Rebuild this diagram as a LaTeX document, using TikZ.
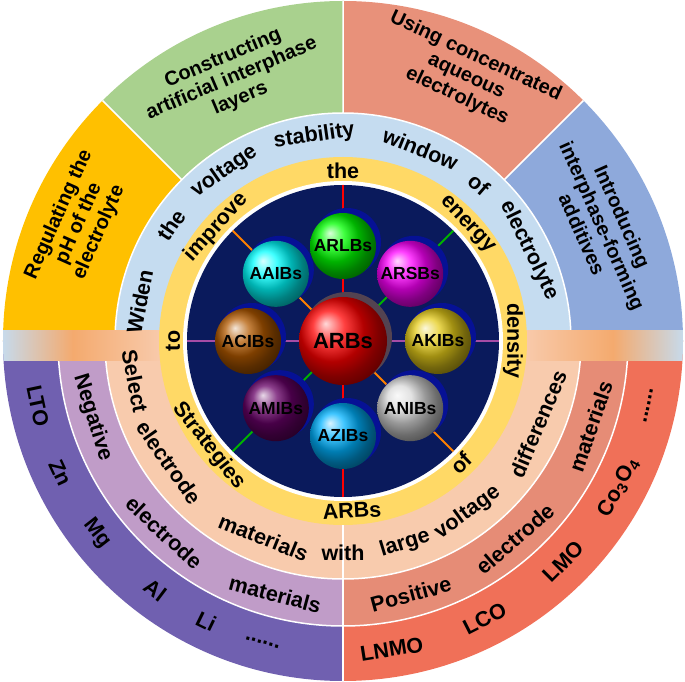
\documentclass[tikz,border=0pt]{standalone}
\usepackage{fontspec}
\setmainfont{Liberation Sans}
\usetikzlibrary{shapes,positioning,calc}
\definecolor{regyellow}{RGB}{255, 192, 0}
\definecolor{congreen}{RGB}{169, 209, 142}
\definecolor{usesalmon}{RGB}{232, 145, 122}
\definecolor{intblue}{RGB}{142, 169, 219}
\definecolor{widenblue}{RGB}{197, 220, 240}
\definecolor{ringyellow}{RGB}{255, 217, 102}
\definecolor{selpeach}{RGB}{248, 203, 173}
\definecolor{negpurple}{RGB}{192, 156, 200}
\definecolor{posred}{RGB}{230, 140, 118}
\definecolor{outpurple}{RGB}{112, 96, 176}
\definecolor{outred}{RGB}{240, 112, 88}
\definecolor{corenavy}{RGB}{10, 26, 92}
\definecolor{bandorange}{RGB}{244, 170, 110}
\newcommand{\moredots}{......}

\begin{document}
\begin{tikzpicture}[x=1pt, y=1pt,
    % word styles for the rings
    ringword/.style={font=\fontsize{21.5}{23}\selectfont\bfseries, inner sep=0pt},
    boxtext/.style={font=\fontsize{20}{22}\selectfont\bfseries, align=center, inner sep=0pt},
    balltext/.style={font=\fontsize{17.5}{19}\selectfont\bfseries, inner sep=0pt},
    spoke/.style={line width=2pt}
]
\useasboundingbox (-343,-341) rectangle (342,341);

\begin{scope}
\clip (0,0) circle (340);

% Outer segments (top half)
\fill [regyellow] (0,0) -- (180:345) arc (180:135:345) -- cycle;
\fill [congreen] (0,0) -- (135:345) arc (135:90:345) -- cycle;
\fill [usesalmon] (0,0) -- (90:345) arc (90:45:345) -- cycle;
\fill [intblue] (0,0) -- (45:345) arc (45:0:345) -- cycle;
\draw [white, line width=1.5pt] (0,0) -- (135:345) (0,0) -- (90:345) (0,0) -- (45:345);

% Outer segments (bottom half)
\fill [outpurple] (0,0) -- (180:345) arc (180:270:345) -- cycle;
\fill [outred] (0,0) -- (270:345) arc (270:360:345) -- cycle;
\fill [negpurple] (0,0) -- (180:285) arc (180:270:285) -- cycle;
\fill [posred] (0,0) -- (270:285) arc (270:360:285) -- cycle;
\draw [white, line width=1.5pt] (180:285) arc (180:360:285);
\fill [selpeach] (180:238) arc (180:360:238) -- cycle;
\draw [white, line width=1.5pt] (180:238) arc (180:360:238);
\draw [white, line width=1.5pt] (0,0) -- (0,-345);

% Widen ring (top half)
\fill [widenblue] (0:228) arc (0:180:228) -- cycle;
\draw [white, line width=1.5pt] (0:228) arc (0:180:228);

% Horizontal band
\shade [left color=widenblue, right color=bandorange] (-343,-20) rectangle (-270,10);
\shade [left color=bandorange, right color=selpeach] (-270,-20) rectangle (-180,10);
\shade [left color=selpeach, right color=bandorange] (180,-20) rectangle (270,10);
\shade [left color=bandorange, right color=widenblue] (270,-20) rectangle (343,10);
\end{scope}

% Yellow ring and core
\fill [ringyellow] (0,0) circle (184);
\fill [white] (0,0) circle (160);
\fill [corenavy] (0,0) circle (156);

% Spokes
\draw [spoke, red] (90:156) -- (270:156);
\draw [spoke, violet!70!white] (180:156) -- (0:156);
\draw [spoke, orange] (135:156) -- (315:156);
\draw [spoke, green!70!black] (45:156) -- (225:156);

% Balls around the core
\foreach \ang in {90, 45, 0, -45, -90, -135, 180, 135}
  \fill [blue!35!corenavy] ($(\ang:95)+(4,4)$) circle (34);
\fill [brown!40!corenavy] (4,4) circle (45);
\foreach \ang/\col/\lab [count=\i] in {90/green/ARLBs, 45/magenta/ARSBs, 0/yellow!60!brown/AKIBs,
    -45/gray!30/ANIBs, -90/cyan!70!blue/AZIBs, -135/violet!80!black/AMIBs,
    180/orange!70!black/ACIBs, 135/cyan/AAIBs}
{
  \shade [ball color=\col] (\ang:95) circle (33);
  \node [balltext] (ball\i) at (\ang:95) {\lab};
}
\shade [ball color=red] (0,0) circle (44);
\node [balltext, font=\fontsize{22}{24}\selectfont\bfseries] (arbs) at (0,0) {ARBs};

% Yellow ring words
\foreach \ang/\word [count=\i] in {180/to, 138/improve, 90/the, 43/energy, 0/density}
  \node [ringword, rotate=\ang-90] (yt\i) at (\ang:170) {\word};
\foreach \ang/\word [count=\i] in {218/Strategies, 314/of, 273/ARBs}
  \node [ringword, rotate=\ang+90] (yb\i) at (\ang:170) {\word};

% Widen ring words
\foreach \ang/\word [count=\i] in {169/Widen, 146/the, 125/voltage, 98/stability, 68/window, 49/of, 26/electrolyte}
  \node [ringword, rotate=\ang-90] (wd\i) at (\ang:207) {\word};

% Select ring words
\foreach \ang/\word [count=\i] in {191/Select, 215/electrode, 248/materials, 270/with, 287/large, 306/voltage, 337/differences}
  \node [ringword, rotate=\ang+90] (se\i) at (\ang:212) {\word};

% Electrode material rings
\foreach \ang/\word [count=\i] in {197/Negative, 227/electrode, 255/materials, 285/Positive, 311/electrode, 341/materials}
  \node [ringword, rotate=\ang+90] (em\i) at (\ang:262) {\word};
\foreach \ang/\word [count=\i] in {192/LTO, 205/Zn, 218/Mg, 233/Al, 244/Li, 255/\moredots, 279/LNMO, 297/LCO, 315/LMO, 332/Co\textsubscript{3}O\textsubscript{4}, 348/\moredots}
  \node [ringword, rotate=\ang+90] (mt\i) at (\ang:312) {\word};

% Outer boxes (top half)
\node [boxtext, rotate=66] (regulate) at (156:289) {Regulating the\\pH of the\\electrolyte};
\node [boxtext, rotate=23] (construct) at (113:285) {Constructing\\artificial interphase\\layers};
\node [boxtext, rotate=-25] (concentrate) at (65:292) {Using concentrated\\aqueous\\electrolytes};
\node [boxtext, rotate=-66] (introduce) at (24:284) {Introducing\\interphase-forming\\additives};

\end{tikzpicture}
\end{document}
